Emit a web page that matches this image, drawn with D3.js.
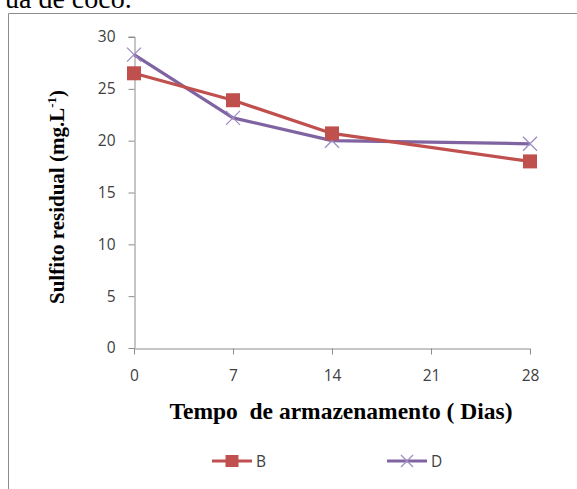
<!DOCTYPE html>
<html>
<head>
<meta charset="utf-8">
<script src="https://cdn.jsdelivr.net/npm/d3@7"></script>
<style>
  html, body { margin: 0; padding: 0; background: #fff; }
  svg { display: block; }
</style>
</head>
<body>
<svg id="chart" width="577" height="489"></svg>
<script>
// Storage days and residual sulfite per treatment
const days = [0, 7, 14, 28];
const seriesB = [26.5, 23.9, 20.7, 18.0];
const seriesD = [28.3, 22.2, 20.0, 19.7];
const xTicks = [0, 7, 14, 21, 28];
const yTicks = [0, 5, 10, 15, 20, 25, 30];
const seriesNames = ["B", "D"];

const svg = d3.select("#chart");
const W = 577, H = 489;

// caption fragment of the surrounding document
svg.append("text")
  .attr("x", 5).attr("y", 8)
  .attr("font-family", "Liberation Serif, Times New Roman, serif")
  .attr("font-size", 28)
  .attr("fill", "#000")
  .text("ua de coco.");

// chart frame
svg.append("path")
  .attr("d", `M8.5,${H} V13.5 H${W}`)
  .attr("fill", "none")
  .attr("stroke", "#8c8c8c")
  .attr("stroke-width", 1);

const x = d3.scaleLinear().domain([0, 28]).range([134, 530]);
const y = d3.scaleLinear().domain([0, 30]).range([348, 37]);

const tickFont = "Open Sans, DejaVu Sans, sans-serif";

// y axis
const yAxis = svg.append("g")
  .attr("transform", "translate(134.5,0)")
  .call(d3.axisLeft(y).tickValues(yTicks).tickSize(6).tickPadding(13));
// x axis
const xAxis = svg.append("g")
  .attr("transform", "translate(0,348.5)")
  .call(d3.axisBottom(x).tickValues(xTicks).tickSize(6).tickPadding(15));

[yAxis, xAxis].forEach(g => {
  g.selectAll("path.domain").attr("stroke", "#8c8c8c");
  g.selectAll(".tick line").attr("stroke", "#8c8c8c");
  g.selectAll(".tick text")
    .attr("font-family", tickFont)
    .attr("font-size", 15.5)
    .attr("fill", "#404040");
});
// axis lines without outer caps
xAxis.select("path.domain").attr("d", `M134,0.5H530`);
yAxis.select("path.domain").attr("d", `M0.5,348V37H-6`);

// axis titles
svg.append("text")
  .attr("x", 341).attr("y", 419)
  .attr("text-anchor", "middle")
  .attr("font-family", "Liberation Serif, Times New Roman, serif")
  .attr("font-weight", "bold")
  .attr("font-size", 23.5)
  .attr("fill", "#000")
  .attr("xml:space", "preserve")
  .text("Tempo  de armazenamento ( Dias)");

const yTitle = svg.append("text")
  .attr("transform", "translate(64,197) rotate(-90)")
  .attr("text-anchor", "middle")
  .attr("font-family", "Liberation Serif, Times New Roman, serif")
  .attr("font-weight", "bold")
  .attr("font-size", 21)
  .attr("fill", "#000");
yTitle.append("tspan").text("Sulfito residual (mg.L");
yTitle.append("tspan").attr("dy", -8).attr("font-size", 13).text("-1");
yTitle.append("tspan").attr("dy", 8).text(")");

const colB = "#c0504d", colD = "#8064a2";
const line = d3.line().x((d, i) => x(days[i])).y(d => y(d));

// series D
svg.append("path").datum(seriesD)
  .attr("d", line).attr("fill", "none")
  .attr("stroke", colD).attr("stroke-width", 3.2).attr("stroke-linejoin", "round");
svg.selectAll(".mD").data(seriesD).join("path")
  .attr("class", "mD")
  .attr("transform", (d, i) => `translate(${x(days[i])},${y(d)})`)
  .attr("d", "M-7,-7L7,7M-7,7L7,-7")
  .attr("stroke", "#9d8cc4").attr("stroke-width", 1.3).attr("fill", "none");

// series B
svg.append("path").datum(seriesB)
  .attr("d", line).attr("fill", "none")
  .attr("stroke", colB).attr("stroke-width", 3.2).attr("stroke-linejoin", "round");
svg.selectAll(".mB").data(seriesB).join("rect")
  .attr("class", "mB")
  .attr("x", (d, i) => x(days[i]) - 7)
  .attr("y", d => y(d) - 7)
  .attr("width", 14).attr("height", 14)
  .attr("fill", colB);

// legend
const legend = svg.append("g");
const legItems = [
  { name: seriesNames[0], color: colB, x0: 212 },
  { name: seriesNames[1], color: colD, x0: 387 }
];
const ly = 461;
legItems.forEach((it, k) => {
  legend.append("line")
    .attr("x1", it.x0).attr("x2", it.x0 + 40)
    .attr("y1", ly).attr("y2", ly)
    .attr("stroke", it.color).attr("stroke-width", 3.2);
  const cx = it.x0 + 20;
  if (k === 0) {
    legend.append("rect").attr("x", cx - 6.5).attr("y", ly - 6)
      .attr("width", 13).attr("height", 12).attr("fill", it.color);
  } else {
    legend.append("path")
      .attr("d", `M${cx-6},${ly-6}L${cx+6},${ly+6}M${cx-6},${ly+6}L${cx+6},${ly-6}`)
      .attr("stroke", "#9d8cc4").attr("stroke-width", 1.3);
  }
  legend.append("text")
    .attr("x", it.x0 + 44).attr("y", ly + 6)
    .attr("font-family", tickFont).attr("font-size", 15.5)
    .attr("fill", "#404040")
    .text(it.name);
});
</script>
</body>
</html>
